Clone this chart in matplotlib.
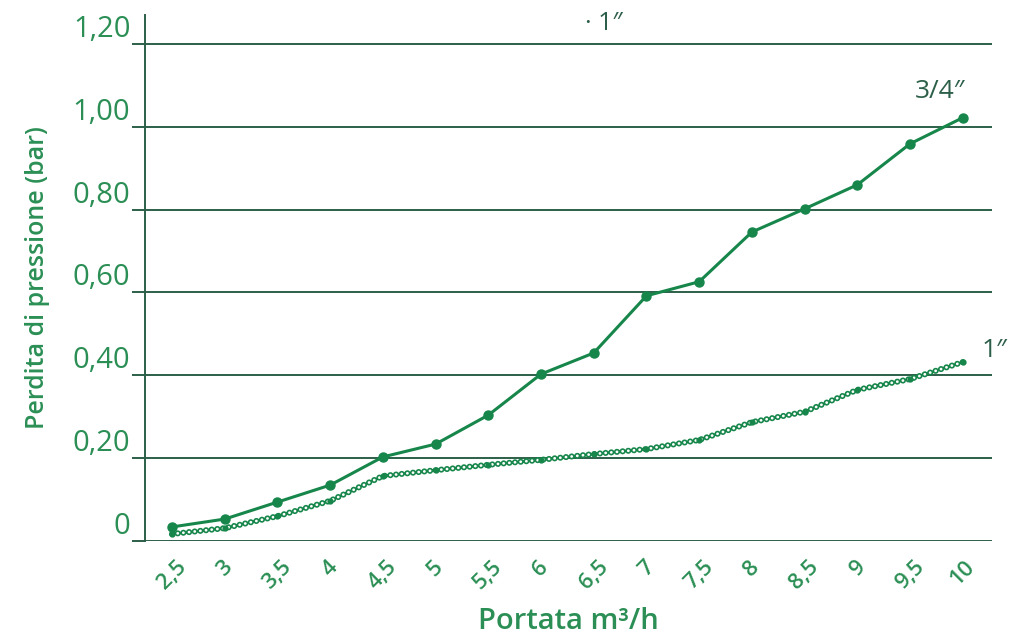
import matplotlib
matplotlib.use('Agg')
import matplotlib.pyplot as plt

plt.rcParams['font.family'] = ['Open Sans', 'DejaVu Sans']
plt.rcParams['lines.scale_dashes'] = False

# Portata m3/h
portata = [2.5, 3, 3.5, 4, 4.5, 5, 5.5, 6, 6.5, 7, 7.5, 8, 8.5, 9, 9.5, 10]
tick_labels = ['2,5', '3', '3,5', '4', '4,5', '5', '5,5', '6', '6,5', '7',
               '7,5', '8', '8,5', '9', '9,5', '10']
# perdita di pressione (bar)
p_34 = [0.034, 0.053, 0.094, 0.135, 0.203, 0.234, 0.304, 0.403, 0.454, 0.592,
        0.626, 0.746, 0.802, 0.860, 0.959, 1.022]
p_1 = [0.017, 0.031, 0.060, 0.097, 0.157, 0.171, 0.184, 0.196, 0.210, 0.222,
       0.244, 0.287, 0.312, 0.365, 0.391, 0.432]
y_ticks = [0, 0.2, 0.4, 0.6, 0.8, 1.0, 1.2]
y_labels = ['0', '0,20', '0,40', '0,60', '0,80', '1,00', '1,20']

green = '#17864b'
text_green = '#2b8f55'
grid_col = '#2c5f49'

fig = plt.figure(figsize=(10.12, 6.43), dpi=100)
ax = fig.add_axes([0.1433, 0.1586, 0.8367, 0.8181])

for y in y_ticks:
    ax.axhline(y, color=grid_col, lw=1.4, zorder=1)

# 1" line: chain of little rings
ax.plot(portata, p_1, color=green, lw=4.4, linestyle=(0, (0.1, 4.0)),
        dash_capstyle='round', zorder=2)
ax.plot(portata, p_1, color='white', lw=2.0, linestyle=(0, (0.1, 4.0)),
        dash_capstyle='round', zorder=3)
ax.plot(portata, p_1, color=green, lw=0, marker='o', ms=3.5, zorder=3)

# 3/4" line
ax.plot(portata, p_34, color=green, lw=2.2, marker='o', ms=6.5, zorder=4)

ax.set_xlim(2.244, 10.275)
ax.set_ylim(0, 1.27)
ax.set_xticks(portata)
ax.set_xticklabels(tick_labels, rotation=45, ha='center', va='top',
                   color=text_green, fontsize=16, fontweight='semibold')
ax.tick_params(axis='x', length=0, pad=11)
ax.set_yticks(y_ticks)
ax.set_yticklabels(y_labels, color=text_green, fontsize=21, va='bottom')
ax.tick_params(axis='y', length=9.5, width=1.4, color=grid_col, pad=1)

for s in ['top', 'right', 'bottom']:
    ax.spines[s].set_visible(False)
ax.spines['left'].set_color(grid_col)
ax.spines['left'].set_linewidth(1.4)

ax.set_xlabel('Portata m\u00b3/h', color=text_green, fontsize=21,
              fontweight='semibold', labelpad=10)
ax.set_ylabel('Perdita di pressione (bar)', color=text_green, fontsize=18,
              fontweight='semibold', labelpad=16)

ax.text(9.78, 1.055, '3/4\u2033', color=grid_col, fontsize=19, ha='center',
        va='bottom', zorder=5)
ax.text(10.3, 0.43, '1\u2033', color=grid_col, fontsize=19, ha='center',
        va='bottom', clip_on=False)
ax.text(6.6, 1.22, '\u00b7 1\u2033', color=grid_col, fontsize=18, ha='center',
        va='bottom', clip_on=False)

fig.savefig('out.png', dpi=100)
